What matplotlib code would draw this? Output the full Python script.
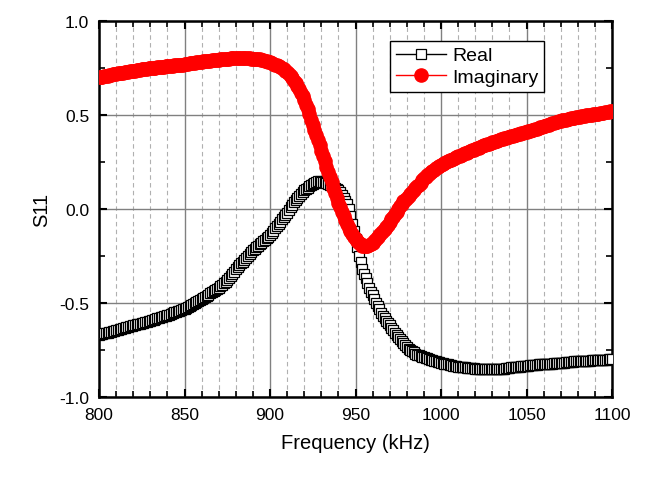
import matplotlib
matplotlib.use("Agg")
import matplotlib.pyplot as plt
from matplotlib.ticker import MultipleLocator

plt.rcParams['font.family'] = ['Liberation Sans', 'DejaVu Sans']

freq = list(range(800, 1101, 1))

real = [
    -0.670, -0.668, -0.665, -0.663, -0.660, -0.658, -0.655, -0.653, -0.650, -0.648,
    -0.645, -0.643, -0.640, -0.638, -0.635, -0.633, -0.630, -0.628, -0.625, -0.623,
    -0.620, -0.618, -0.615, -0.613, -0.610, -0.608, -0.605, -0.603, -0.600, -0.598,
    -0.595, -0.592, -0.589, -0.586, -0.583, -0.580, -0.577, -0.574, -0.571, -0.568,
    -0.565, -0.562, -0.558, -0.555, -0.551, -0.548, -0.544, -0.541, -0.537, -0.534,
    -0.530, -0.525, -0.520, -0.515, -0.510, -0.505, -0.500, -0.495, -0.490, -0.485,
    -0.480, -0.474, -0.468, -0.462, -0.456, -0.450, -0.444, -0.438, -0.432, -0.426,
    -0.420, -0.412, -0.404, -0.396, -0.388, -0.379, -0.370, -0.358, -0.345, -0.333,
    -0.320, -0.310, -0.300, -0.290, -0.280, -0.270, -0.260, -0.250, -0.240, -0.230,
    -0.220, -0.212, -0.204, -0.196, -0.188, -0.180, -0.172, -0.164, -0.156, -0.148,
    -0.140, -0.128, -0.116, -0.104, -0.092, -0.080, -0.068, -0.056, -0.044, -0.032,
    -0.020, -0.006, 0.008, 0.022, 0.036, 0.048, 0.060, 0.070, 0.080, 0.090,
    0.100, 0.107, 0.114, 0.121, 0.128, 0.134, 0.140, 0.145, 0.150, 0.148,
    0.145, 0.143, 0.140, 0.137, 0.134, 0.130, 0.126, 0.120, 0.114, 0.107,
    0.100, 0.088, 0.075, 0.060, 0.045, 0.025, 0.000, -0.040, -0.080, -0.120,
    -0.160, -0.205, -0.250, -0.285, -0.320, -0.345, -0.370, -0.395, -0.420, -0.440,
    -0.460, -0.480, -0.500, -0.518, -0.535, -0.553, -0.570, -0.583, -0.595, -0.608,
    -0.620, -0.633, -0.645, -0.658, -0.670, -0.681, -0.692, -0.703, -0.714, -0.725,
    -0.735, -0.743, -0.750, -0.757, -0.764, -0.770, -0.775, -0.780, -0.784, -0.787,
    -0.790, -0.793, -0.796, -0.799, -0.802, -0.805, -0.808, -0.811, -0.814, -0.817,
    -0.820, -0.822, -0.824, -0.826, -0.828, -0.830, -0.832, -0.834, -0.836, -0.838,
    -0.840, -0.841, -0.842, -0.843, -0.844, -0.845, -0.846, -0.847, -0.848, -0.849,
    -0.850, -0.850, -0.850, -0.850, -0.850, -0.850, -0.850, -0.850, -0.850, -0.850,
    -0.850, -0.850, -0.850, -0.850, -0.850, -0.850, -0.850, -0.850, -0.848, -0.847,
    -0.845, -0.844, -0.843, -0.842, -0.841, -0.840, -0.839, -0.838, -0.837, -0.836,
    -0.835, -0.834, -0.833, -0.832, -0.831, -0.830, -0.829, -0.828, -0.827, -0.826,
    -0.825, -0.825, -0.824, -0.824, -0.823, -0.823, -0.822, -0.822, -0.821, -0.821,
    -0.820, -0.819, -0.818, -0.817, -0.816, -0.815, -0.814, -0.813, -0.812, -0.811,
    -0.810, -0.810, -0.809, -0.809, -0.808, -0.808, -0.807, -0.807, -0.806, -0.806,
    -0.805, -0.805, -0.804, -0.804, -0.803, -0.803, -0.802, -0.802, -0.801, -0.801,
    -0.800,
]

imag = [
    0.700, 0.702, 0.704, 0.706, 0.708, 0.710, 0.712, 0.714, 0.716, 0.718,
    0.720, 0.722, 0.723, 0.725, 0.726, 0.728, 0.729, 0.731, 0.732, 0.734,
    0.735, 0.737, 0.738, 0.740, 0.741, 0.743, 0.744, 0.746, 0.747, 0.749,
    0.750, 0.751, 0.752, 0.753, 0.754, 0.755, 0.756, 0.757, 0.758, 0.759,
    0.760, 0.761, 0.762, 0.763, 0.764, 0.765, 0.766, 0.767, 0.768, 0.769,
    0.770, 0.772, 0.773, 0.775, 0.776, 0.778, 0.779, 0.781, 0.782, 0.784,
    0.785, 0.786, 0.787, 0.788, 0.789, 0.790, 0.791, 0.792, 0.793, 0.794,
    0.795, 0.796, 0.797, 0.798, 0.799, 0.800, 0.801, 0.802, 0.803, 0.804,
    0.805, 0.805, 0.805, 0.805, 0.804, 0.804, 0.803, 0.803, 0.802, 0.801,
    0.800, 0.799, 0.798, 0.797, 0.796, 0.794, 0.792, 0.790, 0.787, 0.784,
    0.780, 0.777, 0.773, 0.769, 0.765, 0.760, 0.755, 0.749, 0.743, 0.737,
    0.730, 0.719, 0.708, 0.696, 0.683, 0.668, 0.653, 0.637, 0.620, 0.600,
    0.580, 0.555, 0.530, 0.503, 0.475, 0.448, 0.420, 0.393, 0.365, 0.338,
    0.310, 0.282, 0.254, 0.226, 0.198, 0.170, 0.142, 0.114, 0.086, 0.058,
    0.030, 0.008, -0.015, -0.038, -0.060, -0.080, -0.100, -0.118, -0.135, -0.148,
    -0.160, -0.170, -0.180, -0.188, -0.195, -0.197, -0.198, -0.196, -0.192, -0.186,
    -0.180, -0.170, -0.160, -0.150, -0.140, -0.129, -0.118, -0.107, -0.095, -0.083,
    -0.070, -0.056, -0.042, -0.028, -0.014, 0.000, 0.014, 0.027, 0.040, 0.050,
    0.060, 0.070, 0.080, 0.090, 0.100, 0.110, 0.120, 0.130, 0.140, 0.152,
    0.165, 0.172, 0.180, 0.188, 0.195, 0.203, 0.210, 0.216, 0.222, 0.229,
    0.235, 0.240, 0.244, 0.249, 0.253, 0.258, 0.262, 0.267, 0.271, 0.276,
    0.280, 0.284, 0.288, 0.292, 0.296, 0.300, 0.304, 0.308, 0.312, 0.316,
    0.320, 0.324, 0.327, 0.331, 0.334, 0.338, 0.341, 0.345, 0.348, 0.352,
    0.355, 0.358, 0.361, 0.364, 0.367, 0.370, 0.373, 0.376, 0.379, 0.382,
    0.385, 0.388, 0.390, 0.393, 0.395, 0.398, 0.400, 0.403, 0.405, 0.408,
    0.410, 0.413, 0.416, 0.419, 0.422, 0.425, 0.428, 0.431, 0.434, 0.437,
    0.440, 0.443, 0.446, 0.449, 0.452, 0.455, 0.458, 0.461, 0.464, 0.467,
    0.470, 0.472, 0.474, 0.476, 0.478, 0.480, 0.482, 0.484, 0.486, 0.488,
    0.490, 0.492, 0.493, 0.495, 0.496, 0.498, 0.499, 0.501, 0.502, 0.504,
    0.505, 0.507, 0.508, 0.510, 0.511, 0.513, 0.514, 0.516, 0.517, 0.519,
    0.520,
]

xticks = [800, 850, 900, 950, 1000, 1050, 1100]
yticks = [-1.0, -0.5, 0.0, 0.5, 1.0]

fig = plt.figure(figsize=(6.48, 4.81), dpi=100)
ax = fig.add_axes([0.1528, 0.173, 0.7917, 0.781])

ax.plot(freq, real, color='black', lw=1, marker='s', markersize=7.5,
        markerfacecolor='white', markeredgecolor='black', markeredgewidth=0.9,
        label='Real', zorder=3)
ax.plot(freq, imag, color='#ff0000', lw=1, marker='o', markersize=9.5,
        markerfacecolor='#ff0000', markeredgecolor='#ff0000',
        label='Imaginary', zorder=4)

ax.set_xlim(800, 1100)
ax.set_ylim(-1.0, 1.0)
ax.set_xticks(xticks)
ax.set_xticklabels([str(t) for t in xticks])
ax.set_yticks(yticks)
ax.set_yticklabels([f"{t:.1f}" for t in yticks])
ax.xaxis.set_minor_locator(MultipleLocator(10))
ax.yaxis.set_minor_locator(MultipleLocator(0.25))

ax.grid(which='major', color='#808080', lw=1, ls='-', zorder=0)
ax.grid(which='minor', axis='x', color='#b0b0b0', lw=0.8, ls=(0, (4, 3)), zorder=0)

ax.tick_params(which='both', direction='in', top=True, right=True, labelsize=12.5)
ax.tick_params(which='major', length=6, width=1.5, pad=7)
ax.tick_params(which='minor', length=4, width=1.2)
for s in ax.spines.values():
    s.set_linewidth(1.8)

ax.set_xlabel('Frequency (kHz)', fontsize=14.5, labelpad=8)
ax.set_ylabel('S11', fontsize=14.5, labelpad=6)

leg = ax.legend(loc='upper left', bbox_to_anchor=(0.567, 0.947), borderaxespad=0,
                fontsize=14, numpoints=1, handlelength=2.6, fancybox=False,
                framealpha=1, edgecolor='black', borderpad=0.3, labelspacing=0.2,
                handletextpad=0.3)
leg.get_frame().set_linewidth(1.0)

fig.savefig('out.png', dpi=100)
